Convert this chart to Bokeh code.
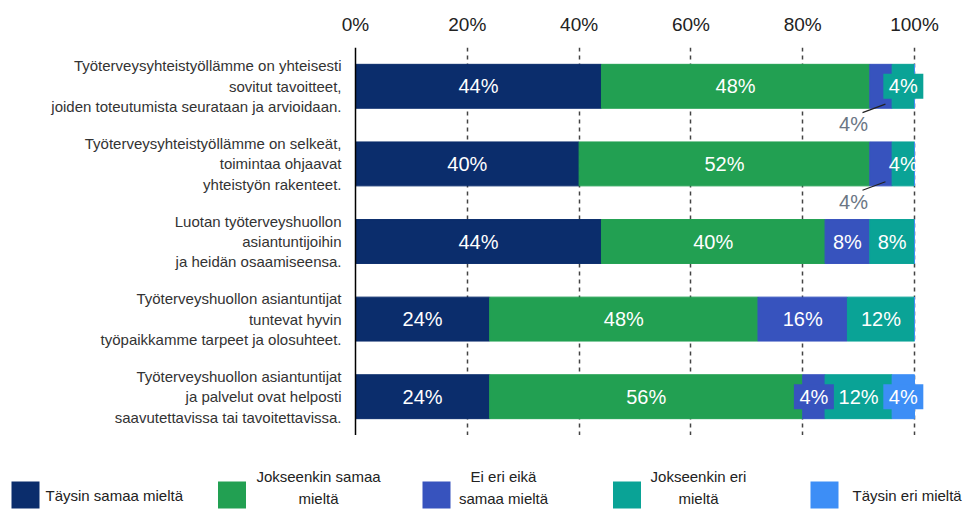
from bokeh.plotting import figure
from bokeh.models import ColumnDataSource, Range1d, FixedTicker, PrintfTickFormatter
from bokeh.layouts import column
from bokeh.core.properties import value
from bokeh.embed import file_html
from bokeh.resources import INLINE

FONT = "Liberation Sans"

categories = [
    "Työterveysyhteistyöllämme on yhteisesti\nsovitut tavoitteet,\njoiden toteutumista seurataan ja arvioidaan.",
    "Työterveysyhteistyöllämme on selkeät,\ntoimintaa ohjaavat\nyhteistyön rakenteet.",
    "Luotan työterveyshuollon\nasiantuntijoihin\nja heidän osaamiseensa.",
    "Työterveyshuollon asiantuntijat\ntuntevat hyvin\ntyöpaikkamme tarpeet ja olosuhteet.",
    "Työterveyshuollon asiantuntijat\nja palvelut ovat helposti\nsaavutettavissa tai tavoitettavissa.",
]
series_names = ["Täysin samaa mieltä", "Jokseenkin samaa\nmieltä", "Ei eri eikä\nsamaa mieltä",
                "Jokseenkin eri\nmieltä", "Täysin eri mieltä"]
taysin_samaa = [44, 40, 44, 24, 24]
jokseenkin_samaa = [48, 52, 40, 48, 56]
ei_eri_eika = [4, 4, 8, 16, 4]
jokseenkin_eri = [4, 4, 8, 12, 12]
taysin_eri = [0, 0, 0, 0, 4]
x_ticks = [0, 20, 40, 60, 80, 100]

colors = ["#0b2d6c", "#22a052", "#3753be", "#0aa396", "#3d8ef6"]
series = [taysin_samaa, jokseenkin_samaa, ei_eri_eika, jokseenkin_eri, taysin_eri]
keys = ["s0", "s1", "s2", "s3", "s4"]

# label placement styles (row, series index)
outside = {(0, 2), (1, 2)}
boxed = {(0, 3), (4, 2), (4, 4)}

W = 970
PX_PER_PCT = 5.59
ZERO_X = 355

n = len(categories)
rows = list(range(n))
data = {"y": rows}
for k, s in zip(keys, series):
    data[k] = s
src = ColumnDataSource(data)

p = figure(width=W, height=435,
           x_range=Range1d(-ZERO_X / PX_PER_PCT, (W - ZERO_X) / PX_PER_PCT),
           y_range=Range1d(n - 0.5, -0.5),
           x_axis_location="above", output_backend="svg", toolbar_location=None,
           min_border_left=0, min_border_right=0, min_border_top=47, min_border_bottom=0)
bars = p.hbar_stack(keys, y="y", height=0.566, color=colors, source=src)

in_x, in_y, in_t = [], [], []
box_x, box_y, box_c = [], [], []
out_x, out_y, out_t = [], [], []
ld_x0, ld_y0, ld_x1, ld_y1 = [], [], [], []
for i in rows:
    left = 0
    for si, vals in enumerate(series):
        v = vals[i]
        if v > 0:
            mid = left + v / 2
            if (i, si) in outside:
                out_x.append(mid - 4.9)
                out_y.append(i + 0.49)
                out_t.append(f"{v}%")
                ld_x0.append(mid + 0.8)
                ld_y0.append(i + 0.23)
                ld_x1.append(mid - 3.3)
                ld_y1.append(i + 0.34)
            else:
                if (i, si) in boxed:
                    box_x.append(mid)
                    box_y.append(i)
                    box_c.append(colors[si])
                in_x.append(mid)
                in_y.append(i)
                in_t.append(f"{v}%")
        left += v

p.rect(x=box_x, y=box_y, width=40, height=25, width_units="screen", height_units="screen",
       fill_color=box_c, line_color=None)
p.text(x=in_x, y=in_y, text=in_t, text_align="center", text_baseline="middle",
       text_color="white", text_font=value(FONT), text_font_size="20px")
p.segment(x0=ld_x0, y0=ld_y0, x1=ld_x1, y1=ld_y1, line_color="#222222", line_width=1.2)
p.text(x=out_x, y=out_y, text=out_t, text_align="center", text_baseline="middle",
       text_color="#6b7684", text_font=value(FONT), text_font_size="20px")

p.xaxis.ticker = FixedTicker(ticks=x_ticks)
p.xaxis.formatter = PrintfTickFormatter(format="%d%%")
p.xaxis.axis_line_color = None
p.xaxis.major_tick_line_color = None
p.xaxis.minor_tick_line_color = None
p.xaxis.major_tick_out = 0
p.xaxis.major_label_standoff = 13
p.xaxis.major_label_text_font = FONT
p.xaxis.major_label_text_font_size = "19px"
p.xaxis.major_label_text_color = "#222222"

p.yaxis.fixed_location = 0
p.yaxis.ticker = FixedTicker(ticks=rows)
p.yaxis.major_label_overrides = {i: c for i, c in zip(rows, categories)}
p.yaxis.axis_line_color = "black"
p.yaxis.axis_line_width = 1.5
p.yaxis.major_tick_line_color = None
p.yaxis.minor_tick_line_color = None
p.yaxis.major_tick_out = 0
p.yaxis.major_label_standoff = 14
p.yaxis.major_label_text_font = FONT
p.yaxis.major_label_text_font_size = "15px"
p.yaxis.major_label_text_color = "#333333"
p.yaxis.major_label_text_line_height = 1.2

p.xgrid.ticker = FixedTicker(ticks=x_ticks[1:])
p.xgrid.grid_line_color = "#444444"
p.xgrid.grid_line_dash = "4 4"
p.xgrid.grid_line_width = 1.5
p.ygrid.visible = False
p.outline_line_color = None

# legend strip (coordinates are page pixels)
leg = figure(width=W, height=75, x_range=Range1d(0, W), y_range=Range1d(510, 435),
             output_backend="svg", toolbar_location=None, min_border=0)
leg.axis.visible = False
leg.grid.visible = False
leg.outline_line_color = None
sq_x = [25, 231.5, 436, 626.5, 824]
txt_x = [45, 318, 503, 698, 852]
txt_align = ["left", "center", "center", "center", "left"]
leg.rect(x=sq_x, y=[494.5] * 5, width=28, height=27, fill_color=colors, line_color=None)
for tx, al, name in zip(txt_x, txt_align, series_names):
    two = "\n" in name
    leg.text(x=[tx], y=[487 if two else 495], text=[name], text_align=al, text_baseline="middle",
             text_color="#222222", text_font=value(FONT), text_font_size="15px",
             text_line_height=1.3)

layout = column(p, leg)
open("out.html", "w").write(file_html(layout, INLINE))
